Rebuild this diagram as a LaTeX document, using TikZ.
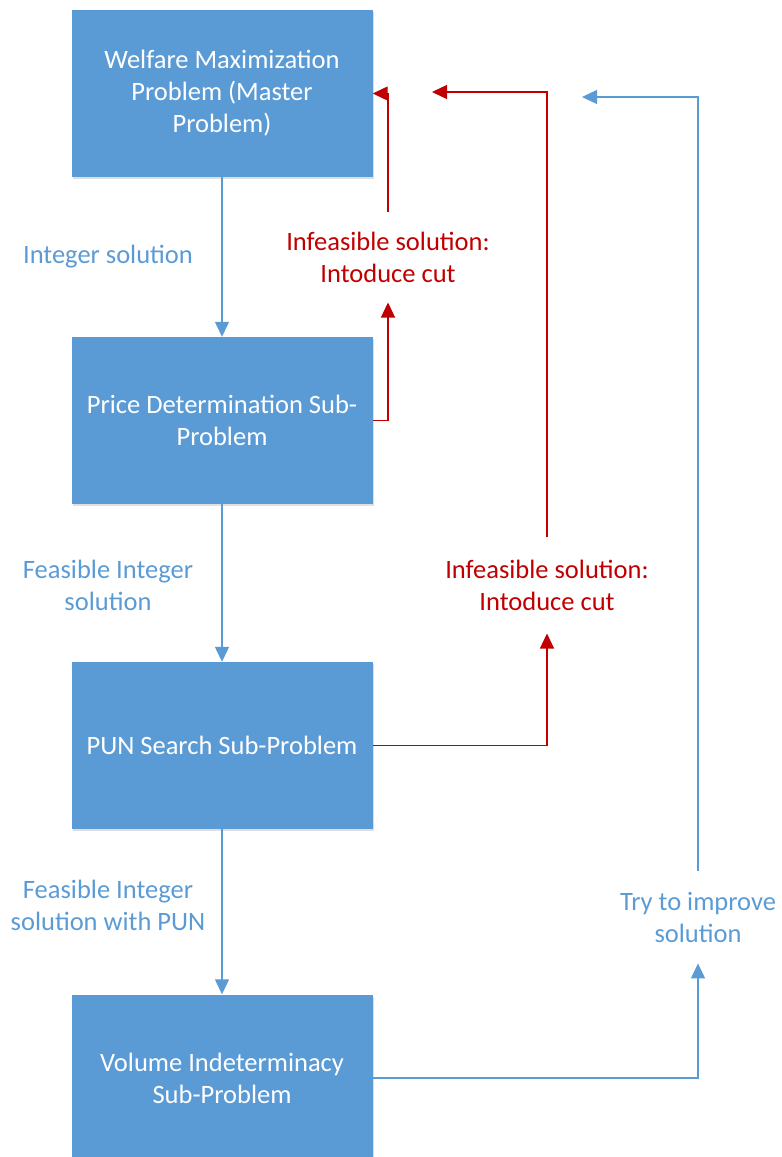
\documentclass[tikz,border=0pt]{standalone}
\usepackage{fontspec}
\setmainfont{Carlito}
\usetikzlibrary{arrows.meta,shadows}
\definecolor{boite}{HTML}{5B9BD5}
\definecolor{rouge}{HTML}{C00000}
\tikzset{
  bloc/.style={fill=boite, text=white, align=center, minimum width=301pt, minimum height=167pt,
    drop shadow={shadow xshift=1.5pt, shadow yshift=-2pt, opacity=0.25}},
  etiqbleu/.style={text=boite, align=center},
  etiqrouge/.style={text=rouge, align=center, inner ysep=20pt},
  fleche/.style={line width=1.3pt, -{Triangle[length=15pt,width=14pt]}}
}
\begin{document}
\begin{tikzpicture}[x=1pt,y=-1pt,font=\fontsize{26.5}{32}\selectfont]
\useasboundingbox (0,0) rectangle (782,1157);
%les quatre problemes
\node[bloc] (maitre) at (222,93.5) {Welfare Maximization\\Problem (Master\\Problem)};
\node[bloc] (prix) at (222,420.5) {Price Determination Sub-\\Problem};
\node[bloc] (pun) at (222,745.5) {PUN Search Sub-Problem};
\node[bloc] (volume) at (222,1078) {Volume Indeterminacy\\Sub-Problem};
\node[etiqbleu] (entier) at (108,257) {Integer solution};
\node[etiqbleu] (faisable) at (108,585) {Feasible Integer\\solution};
\node[etiqbleu] (faisablepun) at (108,905) {Feasible Integer\\solution with PUN};
\node[etiqrouge] (coupe1) at (388,257) {Infeasible solution:\\Intoduce cut};
\node[etiqrouge, inner ysep=23pt] (coupe2) at (547,585) {Infeasible solution:\\Intoduce cut};
\node[etiqbleu, inner ysep=21pt] (ameliore) at (698,917) {Try to improve\\solution};
\coordinate (retour1) at (432,92);
\coordinate (retour2) at (582,97);
\draw[fleche, boite] (maitre) -- (prix);
\draw[fleche, boite] (prix) -- (pun);
\draw[fleche, boite] (pun) -- (volume);
\draw[fleche, rouge] (prix.east) -| (coupe1.south);
\draw[fleche, rouge] (coupe1.north) |- (maitre.east);
\draw[fleche, rouge] (pun.east) -| (coupe2.south);
\draw[fleche, rouge] (coupe2.north) |- (retour1);
\draw[fleche, boite] (volume.east) -| (ameliore.south);
\draw[fleche, boite] (ameliore.north) |- (retour2);
\end{tikzpicture}
\end{document}
